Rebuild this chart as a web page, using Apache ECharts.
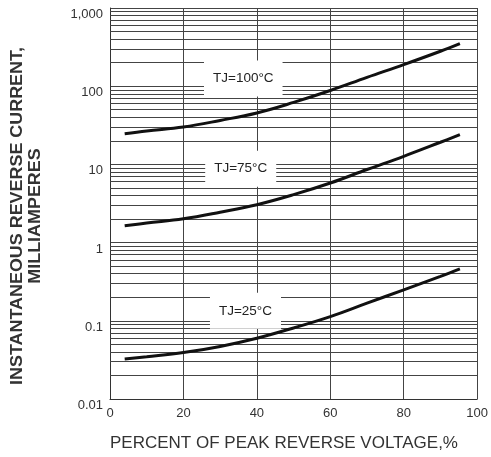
<!DOCTYPE html>
<html>
<head>
<meta charset="utf-8">
<script src="https://cdn.jsdelivr.net/npm/echarts@6/dist/echarts.min.js"></script>
<style>
  html, body { margin: 0; padding: 0; background: #fff; }
  #chart { width: 491px; height: 457px; }
</style>
</head>
<body>
<div id="chart"></div>
<script>
// percent of peak reverse voltage
const voltagePct = [4, 10, 20, 30, 40, 50, 60, 70, 80, 90, 95.3]
// reverse current, mA
const tj100 = [24.7, 26.8, 30.1, 36.5, 45.5, 62, 88, 130, 189, 280, 351]
const tj75 = [1.64, 1.78, 2.02, 2.45, 3.05, 4.1, 5.78, 8.6, 12.7, 19.2, 24]
const tj25 = [0.0325, 0.0347, 0.0392, 0.047, 0.0598, 0.081, 0.113, 0.168, 0.249, 0.37, 0.461]

const yTickLabels = ['0.01', '0.1', '1', '10', '100', '1,000']
const curveNames = ['TJ=100°C', 'TJ=75°C', 'TJ=25°C']
// where each curve label box sits (x %, y mA)
const labelAnchors = [[36.3, 125], [35.6, 8.8], [36.9, 0.134]]

// minor log gridlines (2..9 of each decade)
const decades = [0.01, 0.1, 1, 10, 100]
const minorSteps = [2, 3, 4, 5, 6, 7, 8, 9]
const minorLines = []
decades.forEach(d => minorSteps.forEach(k => minorLines.push({ yAxis: +(d * k).toPrecision(3) })))

const pair = (vals) => voltagePct.map((x, i) => [x, vals[i]])

const chart = echarts.init(document.getElementById('chart'))

const gridColor = '#444'
const curveStyle = { color: '#111', width: 3 }

chart.setOption({
  animation: false,
  grid: { left: 110, right: 12, top: 8, bottom: 58 },
  xAxis: {
    type: 'value',
    min: 0,
    max: 100,
    interval: 20,
    axisLine: { lineStyle: { color: '#333', width: 1 } },
    axisTick: { show: false },
    axisLabel: { color: '#333', fontSize: 13, fontFamily: 'Liberation Sans', margin: 8 },
    splitLine: { show: true, lineStyle: { color: gridColor, width: 1 } }
  },
  yAxis: {
    type: 'log',
    logBase: 10,
    min: 0.01,
    max: 1000,
    axisLine: { show: true, lineStyle: { color: '#333', width: 1 } },
    axisTick: { show: false },
    axisLabel: {
      color: '#333',
      fontSize: 13,
      fontFamily: 'Liberation Sans',
      margin: 7,
      verticalAlign: 'top',
      formatter: (v) => yTickLabels[Math.round(Math.log10(v)) + 2]
    },
    splitLine: { show: true, lineStyle: { color: gridColor, width: 1 } }
  },
  graphic: [
    {
      type: 'text',
      x: 27,
      y: 216,
      rotation: Math.PI / 2,
      scaleX: 1.12,
      style: {
        text: 'INSTANTANEOUS REVERSE CURRENT,\nMILLIAMPERES',
        font: 'bold 16px "Liberation Sans"',
        fill: '#333',
        align: 'center',
        verticalAlign: 'middle',
        lineHeight: 18
      }
    },
    {
      type: 'text',
      x: 284,
      y: 443,
      style: {
        text: 'PERCENT OF PEAK REVERSE VOLTAGE,%',
        font: '17px "Liberation Sans"',
        fill: '#333',
        align: 'center',
        verticalAlign: 'middle'
      }
    }
  ],
  series: [
    {
      name: 'grid',
      type: 'line',
      data: [],
      silent: true,
      markLine: {
        silent: true,
        symbol: 'none',
        label: { show: false },
        lineStyle: { color: gridColor, width: 1, type: 'solid' },
        data: minorLines
      }
    },
    { name: curveNames[0], type: 'line', smooth: 0.4, showSymbol: false, data: pair(tj100), lineStyle: curveStyle, z: 5 },
    { name: curveNames[1], type: 'line', smooth: 0.4, showSymbol: false, data: pair(tj75), lineStyle: curveStyle, z: 5 },
    { name: curveNames[2], type: 'line', smooth: 0.4, showSymbol: false, data: pair(tj25), lineStyle: curveStyle, z: 5 },
    {
      name: 'labels',
      type: 'scatter',
      z: 10,
      silent: true,
      symbolSize: 1,
      itemStyle: { color: 'rgba(0,0,0,0)', opacity: 1 },
      data: labelAnchors.map((p, i) => ({ value: p, name: curveNames[i] })),
      label: {
        show: true,
        position: 'inside',
        formatter: (p) => p.name,
        color: '#222',
        fontSize: 13.5,
        fontFamily: 'Liberation Sans',
        backgroundColor: '#fff',
        padding: [11, 9]
      }
    }
  ]
})
</script>
</body>
</html>
